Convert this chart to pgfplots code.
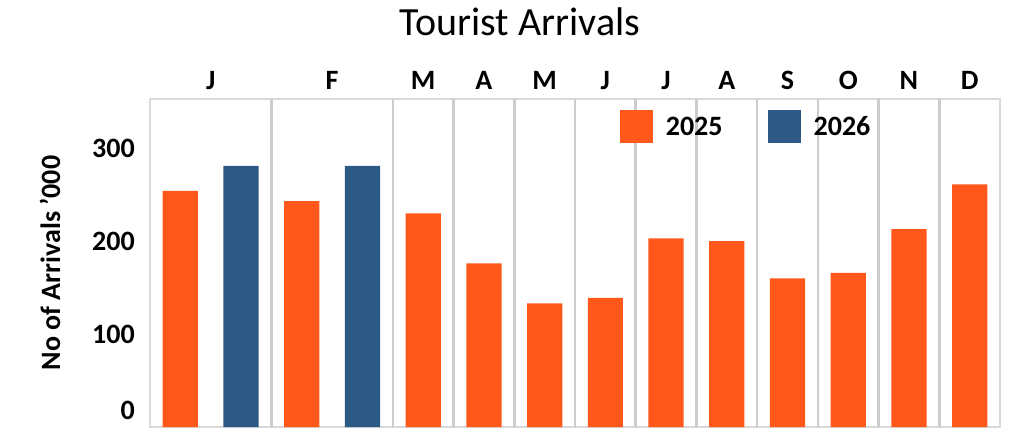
\documentclass[border=0pt]{standalone}
\usepackage{pgfplots}
\pgfplotsset{compat=1.18}
\usepackage{fontspec}
\setmainfont{Carlito}
\definecolor{c25}{HTML}{FF581A}
\definecolor{c26}{HTML}{2C5985}
\definecolor{gridc}{HTML}{CCCCCC}
\definecolor{framec}{HTML}{D9D9D9}
\begin{document}
\begin{tikzpicture}
\useasboundingbox (-150pt,-10pt) rectangle (874pt,427pt);
\begin{axis}[
  scale only axis, width=850pt, height=328pt,
  at={(0pt,0pt)}, anchor=south west,
  xmin=-0.5, xmax=13.5, ymin=0, ymax=353,
  axis line style={framec, line width=2pt},
  major tick length=0pt,
  /pgf/number format/assume math mode=true,
  xtick={0.5,2.5,4,5,6,7,8,9,10,11,12,13},
  xticklabels={J,F,M,A,M,J,J,A,S,O,N,D},
  xticklabel pos=right,
  xticklabel style={font=\bfseries\fontsize{28}{28}\selectfont, inner sep=0pt, yshift=9pt, anchor=south},
  ytick={100,200,300},
  yticklabel style={font=\bfseries\fontsize{28}{28}\selectfont, inner sep=0pt, xshift=-15pt, anchor=east},
  extra y ticks={0},
  extra y tick style={yticklabel style={yshift=17pt}},
  extra x ticks={1.5,3.5,4.5,5.5,6.5,7.5,8.5,9.5,10.5,11.5,12.5},
  extra x tick labels={},
  extra x tick style={grid=major, major grid style={gridc, line width=2.5pt}},
  ylabel={No of Arrivals '000},
  ylabel style={font=\bfseries\fontsize{28}{28}\selectfont, at={(axis description cs:-0.1176,0.5)}, anchor=center},
  title={Tourist Arrivals},
  title style={font=\fontsize{40}{40}\selectfont, at={(axis description cs:0.435,1.216)}, anchor=center},
  legend style={at={(axis description cs:0.549,0.915)}, anchor=west, draw=none, fill=none,
    font=\bfseries\fontsize{28}{28}\selectfont,
    nodes={inner sep=0pt}, column sep=13pt,
    /tikz/every even column/.append style={column sep=45pt}},
  legend columns=2,
  legend image code/.code={\fill[#1] (0pt,-16.5pt) rectangle (33pt,16.5pt);},
]
\addplot[ybar, bar width=0.58, bar shift=0pt, fill=c25, draw=none] coordinates {
  (0,254) (2,243) (4,230) (5,176) (6,133) (7,139) (8,203) (9,200) (10,160) (11,166) (12,213) (13,261)};
\addlegendentry{2025}
\addplot[ybar, bar width=0.58, bar shift=0pt, fill=c26, draw=none] coordinates {
  (1,281) (3,281)};
\addlegendentry{2026}
\end{axis}
\end{tikzpicture}
\end{document}
